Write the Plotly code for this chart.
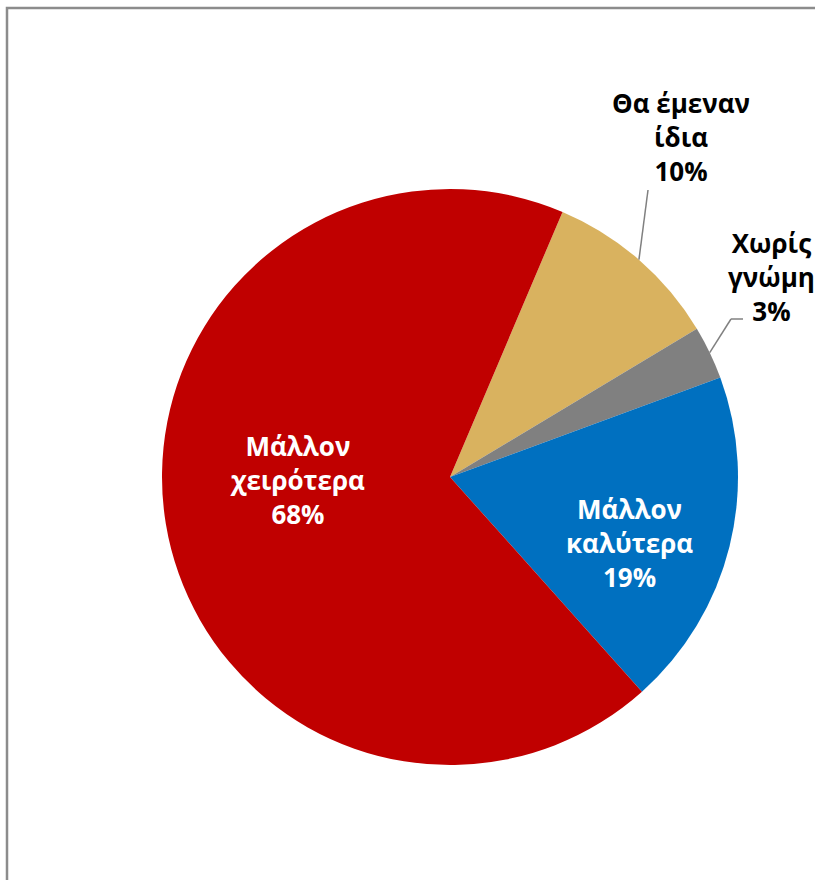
import math
import plotly.graph_objects as go

# -------------------------------
# data
# -------------------------------
labels = ["Θα έμεναν<br>ίδια", "Χωρίς<br>γνώμη", "Μάλλον<br>καλύτερα", "Μάλλον<br>χειρότερα"]
values = [10, 3, 19, 68]
colors = ["#D9B25F", "#808080", "#0070C0", "#C00000"]

# -------------------------------
# layout constants (pixels)
# -------------------------------
W, H = 815, 880
CX, CY, R = 450, 477, 288
ROTATION = 23
FONT = "Open Sans"
FONT_SIZE = 26

# label anchors and whether the label sits inside the slice
label_pos = [(681, 137), (771, 277), (629, 543), (297, 480)]
label_inside = [False, False, True, True]
# leader line bend points (None = no leader)
leader_pts = [[(648, 190)], [(731, 319), (743, 319)], None, None]


def px(x, y):
    return x / W, 1 - y / H


fig = go.Figure()

fig.add_trace(go.Pie(
    labels=labels,
    values=values,
    sort=False,
    direction="clockwise",
    rotation=ROTATION,
    marker=dict(colors=colors, line=dict(width=0)),
    textinfo="none",
    hoverinfo="label+percent",
    showlegend=False,
    domain=dict(
        x=[(CX - R) / W, (CX + R) / W],
        y=[(H - CY - R) / H, (H - CY + R) / H],
    ),
))

total = sum(values)
start = ROTATION
for lab, val, pos, inside, pts in zip(labels, values, label_pos, label_inside, leader_pts):
    mid = math.radians(start + val / total * 180)
    start += val / total * 360
    pct = round(val / total * 100)
    x, y = px(*pos)
    fig.add_annotation(
        x=x, y=y, xref="paper", yref="paper",
        xanchor="center", yanchor="middle",
        text=f"<b>{lab}<br>{pct}%</b>",
        showarrow=False,
        font=dict(family=FONT, size=FONT_SIZE, color="white" if inside else "black"),
        align="center",
    )
    if pts is not None:
        # leader from the slice edge through the bend points
        path = [(CX + R * math.sin(mid), CY - R * math.cos(mid))] + pts
        for (ax0, ay0), (ax1, ay1) in zip(path[:-1], path[1:]):
            x0, y0 = px(ax0, ay0)
            x1, y1 = px(ax1, ay1)
            fig.add_shape(type="line", xref="paper", yref="paper",
                          x0=x0, y0=y0, x1=x1, y1=y1,
                          line=dict(color="#808080", width=1.5))

# chart area frame
fig.add_shape(type="rect", xref="paper", yref="paper",
              x0=7 / W, y0=-0.05, x1=1.05, y1=1 - 8 / H,
              line=dict(color="#8C8C8C", width=2.5))

fig.update_layout(
    width=W, height=H,
    margin=dict(l=0, r=0, t=0, b=0),
    paper_bgcolor="white",
    plot_bgcolor="white",
)

fig.write_html("out.html", config={"displayModeBar": False},
               post_script="document.body.style.margin='0';")
